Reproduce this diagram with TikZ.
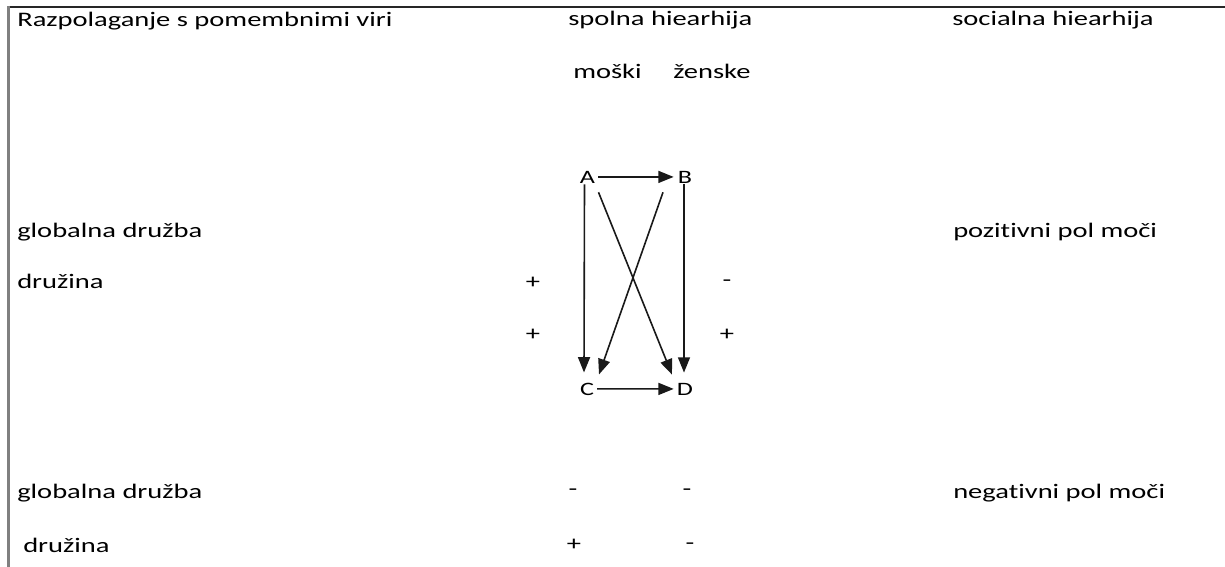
\documentclass[tikz,border=0pt]{standalone}
\usepackage{fontspec}
\setmainfont[FakeStretch=1.38,Ligatures=NoCommon]{Carlito}
\usetikzlibrary{arrows.meta,calc}
\begin{document}
\begin{tikzpicture}[x=0.75pt,y=-0.75pt,
  txt/.style={anchor=base west,inner sep=0pt,font=\fontsize{15.5}{18}\selectfont},
  sgn/.style={anchor=center,inner sep=0pt,font=\fontsize{15.5}{18}\selectfont},
  pnt/.style={anchor=base,inner sep=0pt,font=\fontsize{14.2}{16}\selectfont},
  arr/.style={line width=1.2pt,draw=black!90,-{Triangle[length=11.5pt,width=9pt]}},
  frame/.style={line width=1.2pt,draw=black!85},
  sideframe/.style={line width=2pt,draw=black!50}]
\useasboundingbox (0,0) rectangle (1225,567);

% page frame
\draw[frame] (7,7) -- (1225,7);
\draw[sideframe] (8.5,6) -- (8.5,567);

% headings
\node[txt] (head1) at (17,27) {Razpolaganje s pomembnimi viri};
\node[txt] (head2) at (568,26) {spolna hiearhija};
\node[txt] (head3) at (952,26) {socialna hiearhija};
\node[txt] (male) at (573,79) {moški};
\node[txt] (female) at (673,79) {ženske};

% positive pole
\node[txt] (glob1) at (17,237) {globalna družba};
\node[txt] (pos) at (953,237) {pozitivni pol moči};
\node[txt] (fam1) at (17,288) {družina};
\node[sgn] (s1) at (533,283) {+};
\node[sgn] (s2) at (727,283) {-};
\node[sgn] (s3) at (533,335) {+};
\node[sgn] (s4) at (727,335) {+};

% negative pole
\node[txt] (glob2) at (17,498) {globalna družba};
\node[txt] (neg) at (953,498) {negativni pol moči};
\node[txt] (fam2) at (23,552) {družina};
\node[sgn] (s5) at (573,492) {-};
\node[sgn] (s6) at (687,492) {-};
\node[sgn] (s7) at (574,545) {+};
\node[sgn] (s8) at (690,546) {-};

% scheme of positions
\node[pnt] (A) at (587.5,183) {A};
\node[pnt] (B) at (685,183) {B};
\node[pnt] (C) at (587,395) {C};
\node[pnt] (D) at (685,395) {D};

\draw[arr] ($(A.east)+(3,0)$) -- ($(B.west)+(-4,0)$);
\draw[arr] ($(C.east)+(3,0)$) -- ($(D.west)+(-3,0)$);
\draw[arr] ($(A.south)+(-3,1)$) -- ($(C.north)+(-3,-10)$);
\draw[arr] ($(B.south)+(-1,1)$) -- ($(D.north)+(-1,-10)$);
\draw[arr] ($(A.south)+(11,9)$) -- ($(D.north)+(-13,-8)$);
\draw[arr] ($(B.south)+(-22,9)$) -- ($(C.north)+(12,-8)$);
\end{tikzpicture}
\end{document}
